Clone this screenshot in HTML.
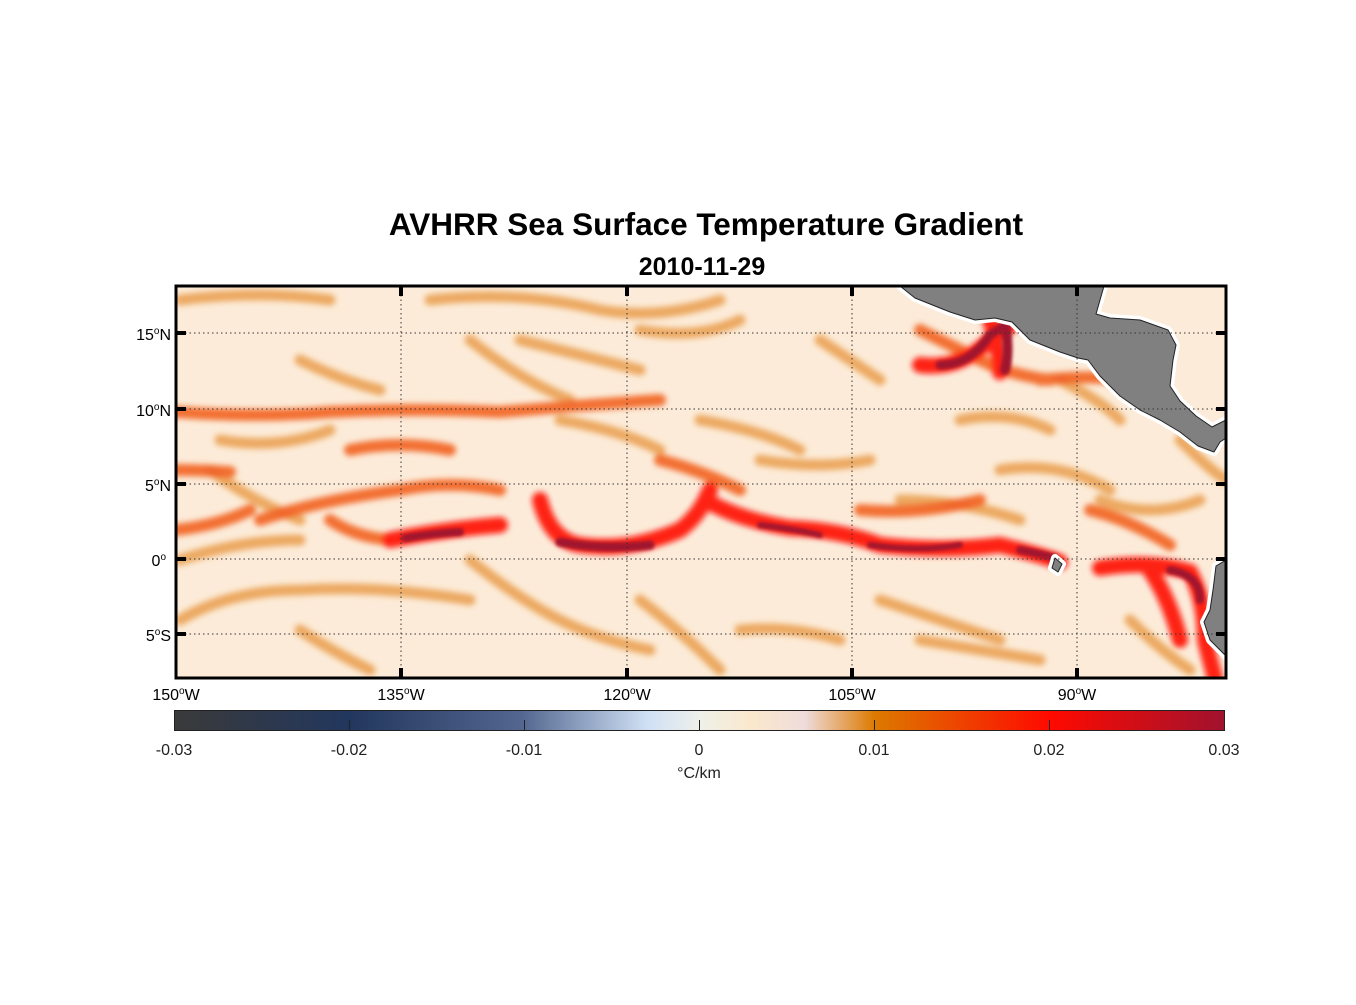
<!DOCTYPE html>
<html><head><meta charset="utf-8"><style>
body{margin:0;background:#fff;}
svg text{font-family:"Liberation Sans",Arial,sans-serif;}
</style></head><body>
<svg width="1356" height="1000" viewBox="0 0 1356 1000" xmlns="http://www.w3.org/2000/svg">
<defs>
<linearGradient id="cb" x1="0" x2="1" y1="0" y2="0">
<stop offset="0" stop-color="#3a3a3a"/>
<stop offset="0.167" stop-color="#22375e"/>
<stop offset="0.33" stop-color="#52668f"/>
<stop offset="0.45" stop-color="#cfe0f5"/>
<stop offset="0.5" stop-color="#eef0ea"/>
<stop offset="0.55" stop-color="#fbe8cc"/>
<stop offset="0.6" stop-color="#efdcdc"/>
<stop offset="0.667" stop-color="#dc7a00"/>
<stop offset="0.833" stop-color="#ff0a00"/>
<stop offset="1" stop-color="#a0122e"/>
</linearGradient>
<filter id="bl" x="-10%" y="-10%" width="120%" height="120%"><feGaussianBlur stdDeviation="3"/></filter>
<filter id="bl2" x="-10%" y="-10%" width="120%" height="120%"><feGaussianBlur stdDeviation="1.5"/></filter>
<clipPath id="cp"><rect x="176" y="286" width="1050" height="392"/></clipPath>
</defs>
<text x="706" y="235" font-size="31.5" font-weight="bold" text-anchor="middle">AVHRR Sea Surface Temperature Gradient</text>
<text x="702" y="275" font-size="25" font-weight="bold" text-anchor="middle">2010-11-29</text>
<g clip-path="url(#cp)">
<rect x="176" y="286" width="1050" height="392" fill="#fcebd8"/>
<g fill="none" stroke-linecap="round" filter="url(#bl)" opacity="0.9">
<g stroke="#e48a2a" stroke-width="11" opacity="0.75">
<path d="M180,300 Q260,290 330,300"/>
<path d="M430,300 Q520,290 600,310 Q660,320 720,300"/>
<path d="M470,340 Q520,380 570,400"/>
<path d="M520,340 Q600,360 640,370"/>
<path d="M300,360 Q340,380 380,390"/>
<path d="M210,470 Q250,500 300,520"/>
<path d="M180,560 Q240,540 300,540"/>
<path d="M180,620 Q230,590 300,590 Q380,585 470,600"/>
<path d="M470,560 Q520,600 560,620 Q600,640 650,650"/>
<path d="M640,600 Q680,630 720,670"/>
<path d="M300,630 Q330,650 370,670"/>
<path d="M760,460 Q820,470 870,460"/>
<path d="M740,630 Q790,625 840,640"/>
<path d="M880,600 Q940,620 1000,640"/>
<path d="M900,500 Q960,500 1020,520"/>
<path d="M1000,470 Q1060,460 1110,490"/>
<path d="M1100,500 Q1150,520 1200,500"/>
<path d="M1060,380 Q1100,400 1120,420"/>
<path d="M700,420 Q760,430 800,450"/>
<path d="M560,420 Q620,430 660,450"/>
<path d="M220,440 Q280,450 330,430"/>
<path d="M960,420 Q1010,410 1050,430"/>
<path d="M1180,440 Q1210,470 1226,480"/>
<path d="M920,640 Q980,650 1040,660"/>
<path d="M1130,620 Q1160,650 1190,670"/>
<path d="M820,340 Q850,360 880,380"/>
<path d="M640,330 Q700,340 740,320"/>
</g>
<g stroke="#f04a08" stroke-width="12" opacity="0.85">
<path d="M176,412 Q260,418 330,412 Q420,408 500,412 Q580,405 660,400"/>
<path d="M176,470 Q200,470 230,472"/>
<path d="M350,450 Q400,440 450,450"/>
<path d="M260,520 Q320,500 400,490 Q450,480 500,490"/>
<path d="M176,530 Q220,525 250,510"/>
<path d="M330,520 Q360,540 400,540"/>
<path d="M660,460 Q700,470 740,490"/>
<path d="M920,330 Q960,350 980,360 Q1010,375 1050,380"/>
<path d="M1040,380 Q1090,375 1120,380"/>
<path d="M1090,510 Q1130,520 1170,545"/>
<path d="M860,510 Q920,515 980,500"/>
</g>
<g stroke="#ff0c00" stroke-width="16">
<path d="M390,540 Q440,530 500,525"/>
<path d="M540,500 Q550,540 580,545 Q630,552 680,530 Q700,515 710,490"/>
<path d="M705,500 Q740,520 790,528 Q840,530 880,545 Q940,552 1000,545 Q1040,555 1060,562"/>
<path d="M1100,568 Q1150,560 1190,572 Q1205,600 1205,640 Q1210,660 1215,678"/>
<path d="M1150,570 Q1170,600 1180,640"/>
<path d="M920,365 Q960,370 990,340 L1015,322"/>
<path d="M990,320 Q1000,350 1000,372"/>
</g>
</g>
<g fill="none" stroke="#a0122e" stroke-linecap="round" filter="url(#bl2)">
<path d="M405,538 Q435,533 460,532" stroke-width="8"/>
<path d="M560,542 Q600,550 650,545" stroke-width="9"/>
<path d="M760,525 Q800,530 820,535" stroke-width="6"/>
<path d="M870,545 Q920,552 960,545" stroke-width="6"/>
<path d="M1020,550 Q1045,555 1055,558" stroke-width="8"/>
<path d="M1170,570 Q1200,575 1200,600" stroke-width="8"/>
<path d="M940,365 Q970,365 990,335 L1005,325" stroke-width="9"/>
<path d="M1005,325 Q1010,350 1005,370" stroke-width="10"/>
</g>
<g fill="#808080" stroke="#fff" stroke-width="8" stroke-linejoin="round">
<path d="M900,286 L915,298 950,312 975,320 995,318 1012,322 1030,340 1060,352 1078,358 1088,360 1100,376 1120,396 1140,410 1160,420 1180,432 1198,446 1214,452 1220,442 1226,438 L1226,420 1212,427 1196,416 1180,401 1170,386 1173,360 1176,345 1168,330 1140,320 1110,318 1096,314 1100,300 1104,286 Z"/>
<path d="M1226,560 L1216,566 1213,590 1210,610 1204,622 1210,640 1226,656 Z"/>
<path d="M1055,558 L1062,564 1058,572 1052,568 Z"/>
</g>
<g fill="#808080" stroke="#222" stroke-width="1" stroke-linejoin="round">
<path d="M900,286 L915,298 950,312 975,320 995,318 1012,322 1030,340 1060,352 1078,358 1088,360 1100,376 1120,396 1140,410 1160,420 1180,432 1198,446 1214,452 1220,442 1226,438 L1226,420 1212,427 1196,416 1180,401 1170,386 1173,360 1176,345 1168,330 1140,320 1110,318 1096,314 1100,300 1104,286 Z"/>
<path d="M1226,560 L1216,566 1213,590 1210,610 1204,622 1210,640 1226,656 Z"/>
<path d="M1055,558 L1062,564 1058,572 1052,568 Z"/>
</g>
<g stroke="#333" stroke-width="1" stroke-dasharray="1.5,3">
<line x1="176" y1="333" x2="1226" y2="333"/>
<line x1="176" y1="409" x2="1226" y2="409"/>
<line x1="176" y1="484" x2="1226" y2="484"/>
<line x1="176" y1="559" x2="1226" y2="559"/>
<line x1="176" y1="634" x2="1226" y2="634"/>
<line x1="401" y1="286" x2="401" y2="678"/>
<line x1="627" y1="286" x2="627" y2="678"/>
<line x1="852" y1="286" x2="852" y2="678"/>
<line x1="1077" y1="286" x2="1077" y2="678"/>
</g>
</g>
<rect x="176" y="286" width="1050" height="392" fill="none" stroke="#000" stroke-width="3"/>
<g stroke="#000" stroke-width="4">
<line x1="176" y1="333" x2="186" y2="333"/><line x1="1216" y1="333" x2="1226" y2="333"/>
<line x1="176" y1="409" x2="186" y2="409"/><line x1="1216" y1="409" x2="1226" y2="409"/>
<line x1="176" y1="484" x2="186" y2="484"/><line x1="1216" y1="484" x2="1226" y2="484"/>
<line x1="176" y1="559" x2="186" y2="559"/><line x1="1216" y1="559" x2="1226" y2="559"/>
<line x1="176" y1="634" x2="186" y2="634"/><line x1="1216" y1="634" x2="1226" y2="634"/>
<line x1="401" y1="286" x2="401" y2="296"/><line x1="401" y1="668" x2="401" y2="678"/>
<line x1="627" y1="286" x2="627" y2="296"/><line x1="627" y1="668" x2="627" y2="678"/>
<line x1="852" y1="286" x2="852" y2="296"/><line x1="852" y1="668" x2="852" y2="678"/>
<line x1="1077" y1="286" x2="1077" y2="296"/><line x1="1077" y1="668" x2="1077" y2="678"/>
</g>
<g font-size="16" text-anchor="end">
<text x="171" y="340">15<tspan dy="-6" font-size="10">o</tspan><tspan dy="6">N</tspan></text>
<text x="171" y="416">10<tspan dy="-6" font-size="10">o</tspan><tspan dy="6">N</tspan></text>
<text x="171" y="491">5<tspan dy="-6" font-size="10">o</tspan><tspan dy="6">N</tspan></text>
<text x="166" y="566">0<tspan dy="-6" font-size="10">o</tspan></text>
<text x="171" y="641">5<tspan dy="-6" font-size="10">o</tspan><tspan dy="6">S</tspan></text>
</g>
<g font-size="16" text-anchor="middle">
<text x="176" y="700">150<tspan dy="-6" font-size="10">o</tspan><tspan dy="6">W</tspan></text>
<text x="401" y="700">135<tspan dy="-6" font-size="10">o</tspan><tspan dy="6">W</tspan></text>
<text x="627" y="700">120<tspan dy="-6" font-size="10">o</tspan><tspan dy="6">W</tspan></text>
<text x="852" y="700">105<tspan dy="-6" font-size="10">o</tspan><tspan dy="6">W</tspan></text>
<text x="1077" y="700">90<tspan dy="-6" font-size="10">o</tspan><tspan dy="6">W</tspan></text>
</g>
<rect x="174.5" y="710.5" width="1050" height="20" fill="url(#cb)" stroke="#222" stroke-width="1"/>
<g stroke="#222" stroke-width="1">
<line x1="349.5" y1="720" x2="349.5" y2="730"/><line x1="524.5" y1="720" x2="524.5" y2="730"/>
<line x1="699.5" y1="720" x2="699.5" y2="730"/><line x1="874.5" y1="720" x2="874.5" y2="730"/>
<line x1="1049.5" y1="720" x2="1049.5" y2="730"/>
</g>
<g font-size="16" text-anchor="middle" fill="#222">
<text x="174" y="755">-0.03</text><text x="349" y="755">-0.02</text><text x="524" y="755">-0.01</text>
<text x="699" y="755">0</text><text x="874" y="755">0.01</text><text x="1049" y="755">0.02</text><text x="1224" y="755">0.03</text>
<text x="699" y="778">°C/km</text>
</g>
</svg>
</body></html>
